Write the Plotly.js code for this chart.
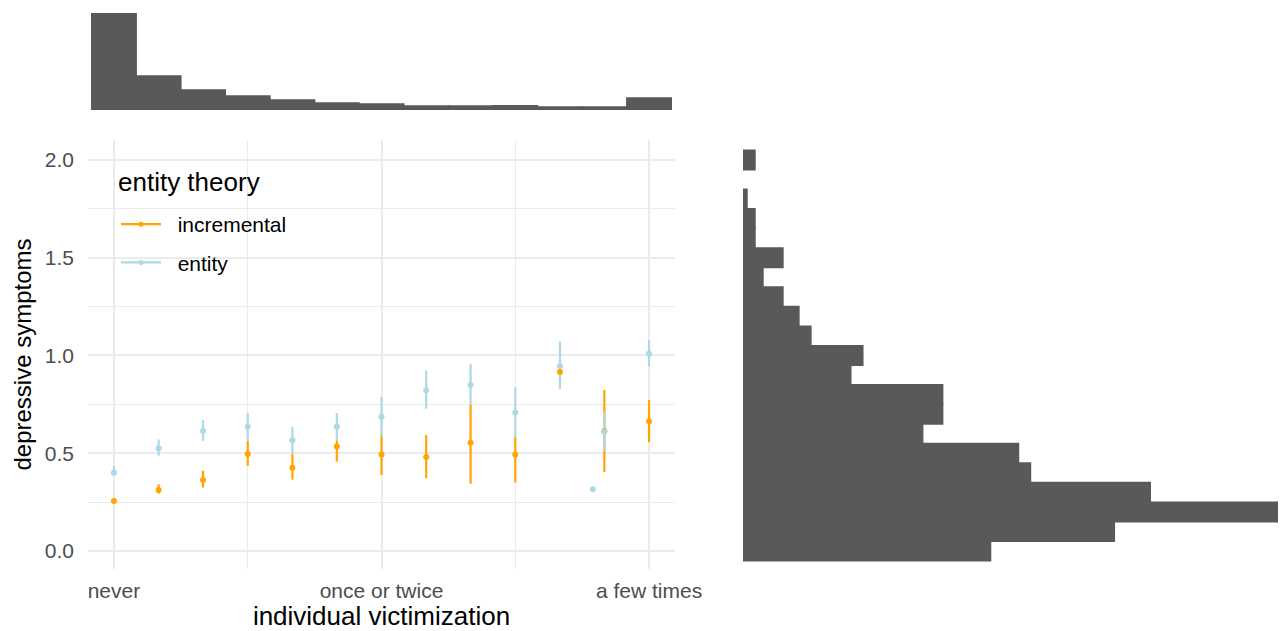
<!DOCTYPE html>
<html>
<head>
<meta charset="utf-8">
<script src="https://cdn.plot.ly/plotly-3.0.1.min.js"></script>
<style>html,body{margin:0;padding:0;background:#fff;}#chart{width:1282px;height:631px;}</style>
</head>
<body>
<div id="chart"></div>
<script>
// ---- data ----
const levels = [1, 1.167, 1.333, 1.5, 1.667, 1.833, 2, 2.167, 2.333, 2.5, 2.667, 2.833, 3];
const tickVals = [1, 2, 3];
const tickText = ['never', 'once or twice', 'a few times'];
const yTickVals = [0, 0.5, 1, 1.5, 2];
const yTickText = ['0.0', '0.5', '1.0', '1.5', '2.0'];
const groupNames = ['incremental', 'entity'];
const legendTitle = 'entity theory';

const incMean = [0.256, 0.312, 0.363, 0.496, 0.426, 0.535, 0.494, 0.481, 0.554, 0.494, 0.916, 0.614, 0.663];
const incLow  = [0.245, 0.293, 0.324, 0.436, 0.365, 0.457, 0.389, 0.372, 0.344, 0.350, 0.905, 0.404, 0.557];
const incHigh = [0.267, 0.341, 0.411, 0.564, 0.496, 0.566, 0.597, 0.593, 0.750, 0.583, 0.927, 0.824, 0.772];

const entMean = [0.400, 0.525, 0.614, 0.636, 0.566, 0.636, 0.687, 0.822, 0.849, 0.708, 0.946, 0.610, 1.009];
const entLow  = [0.384, 0.488, 0.563, 0.566, 0.498, 0.567, 0.586, 0.728, 0.750, 0.580, 0.829, 0.511, 0.943];
const entHigh = [0.435, 0.571, 0.670, 0.706, 0.636, 0.706, 0.788, 0.924, 0.958, 0.837, 1.071, 0.711, 1.079];

const entExtraX = [2.79];
const entExtraY = [0.316];

// marginal histogram of victimization (top)
const topCounts = [291, 102, 60, 42, 30, 21, 18, 12, 12, 13, 9, 9, 36];

// marginal histogram of depressive symptoms (right)
const symBins = [0.0, 0.1, 0.2, 0.3, 0.4, 0.5, 0.6, 0.7, 0.8, 0.9, 1.0, 1.1, 1.2, 1.3, 1.4, 1.5, 1.6, 1.7, 1.8, 1.9, 2.0];
const symCounts = [62, 93, 134, 102, 72, 69, 45, 50, 50, 27, 30, 17, 14, 10, 5, 10, 3, 3, 1, 0, 3];

// ---- styling ----
const ORANGE = '#FFA500';
const BLUE = '#ADD8E6';
const GREY = '#595959';
const W = 1282, H = 631;
const FONT = 'Liberation Sans, Arial, Helvetica, sans-serif';
const PAD = '\u00a0\u00a0';

const px = v => v / W;
const py = v => 1 - v / H;

const minus = (m, lo) => m.map((v, i) => v - lo[i]);
const plus = (m, hi) => hi.map((v, i) => v - m[i]);
const seamWidth = counts => counts.map(c => (c > 0 ? 1.5 : 0));

const xRange = [0.903, 3.097];
const yRange = [-0.092, 2.102];

const traces = [
  // error bars (drawn first)
  {x: levels, y: incMean, type: 'scatter', mode: 'markers', xaxis: 'x', yaxis: 'y',
   marker: {color: ORANGE, size: 6, opacity: 0}, showlegend: false, hoverinfo: 'skip',
   error_y: {type: 'data', symmetric: false, array: plus(incMean, incHigh), arrayminus: minus(incMean, incLow),
             color: ORANGE, thickness: 2.2, width: 0}},
  {x: levels, y: entMean, type: 'scatter', mode: 'markers', xaxis: 'x', yaxis: 'y',
   marker: {color: BLUE, size: 6, opacity: 0}, showlegend: false, hoverinfo: 'skip',
   error_y: {type: 'data', symmetric: false, array: plus(entMean, entHigh), arrayminus: minus(entMean, entLow),
             color: BLUE, thickness: 2.2, width: 0}},
  // points
  {x: levels, y: incMean, type: 'scatter', mode: 'markers', xaxis: 'x', yaxis: 'y',
   marker: {color: ORANGE, size: 6}, showlegend: false, name: groupNames[0]},
  {x: levels, y: entMean, type: 'scatter', mode: 'markers', xaxis: 'x', yaxis: 'y',
   marker: {color: BLUE, size: 6}, showlegend: false, name: groupNames[1]},
  {x: entExtraX, y: entExtraY, type: 'scatter', mode: 'markers', xaxis: 'x', yaxis: 'y',
   marker: {color: BLUE, size: 6}, showlegend: false, name: groupNames[1]},
  // legend entries
  {x: [null], y: [null], type: 'scatter', mode: 'lines+markers', name: PAD + groupNames[0], legendgroup: 'a',
   line: {color: ORANGE, width: 2.2}, marker: {color: ORANGE, size: 5}, xaxis: 'x', yaxis: 'y'},
  {x: [null], y: [null], type: 'scatter', mode: 'lines+markers', name: PAD + groupNames[1], legendgroup: 'b',
   line: {color: BLUE, width: 2.2}, marker: {color: BLUE, size: 5}, xaxis: 'x', yaxis: 'y'},
  // top marginal histogram
  {x: levels, y: topCounts, type: 'bar', xaxis: 'x2', yaxis: 'y2', showlegend: false,
   marker: {color: GREY, line: {width: seamWidth(topCounts), color: GREY}}},
  // right marginal histogram
  {x: symCounts, y: symBins, type: 'bar', orientation: 'h', xaxis: 'x3', yaxis: 'y3', showlegend: false,
   marker: {color: GREY, line: {width: seamWidth(symCounts), color: GREY}}}
];

const mainDomX = [px(88), px(675)];
const mainDomY = [py(569), py(140)];

const layout = {
  width: W, height: H,
  margin: {l: 0, r: 0, t: 0, b: 0},
  paper_bgcolor: '#fff', plot_bgcolor: 'rgba(0,0,0,0)',
  font: {family: FONT, color: '#000'},
  bargap: 0,
  showlegend: true,
  xaxis: {
    domain: mainDomX, range: xRange, anchor: 'y',
    tickmode: 'array', tickvals: tickVals, ticktext: tickText,
    tickfont: {size: 21, color: '#4D4D4D'}, ticks: '', ticklabelstandoff: 7,
    showgrid: true, gridcolor: '#EBEBEB', gridwidth: 2, zeroline: false, showline: false,
    minor: {tickvals: [1.5, 2.5], showgrid: true, gridcolor: '#EBEBEB', gridwidth: 1.2, ticks: ''},
    title: {text: 'individual victimization', font: {size: 26, color: '#000'}, standoff: 2},
    automargin: false
  },
  yaxis: {
    domain: mainDomY, range: yRange, anchor: 'x',
    tickmode: 'array', tickvals: yTickVals, ticktext: yTickText,
    tickfont: {size: 21, color: '#4D4D4D'}, ticks: '', ticklabelstandoff: 13,
    showgrid: true, gridcolor: '#EBEBEB', gridwidth: 2, zeroline: false, showline: false,
    minor: {tickvals: [0.25, 0.75, 1.25, 1.75], showgrid: true, gridcolor: '#EBEBEB', gridwidth: 1.2, ticks: ''},
    title: {text: 'depressive symptoms', font: {size: 24, color: '#000'}, standoff: 6},
    automargin: false
  },
  xaxis2: {
    domain: mainDomX, range: xRange, anchor: 'y2',
    visible: false, showgrid: false, zeroline: false
  },
  yaxis2: {
    domain: [py(110), py(13)], range: [0, 291], anchor: 'x2',
    visible: false, showgrid: false, zeroline: false
  },
  xaxis3: {
    domain: [px(743), px(1278)], range: [0, 134], anchor: 'y3',
    visible: false, showgrid: false, zeroline: false
  },
  yaxis3: {
    domain: mainDomY, range: yRange, anchor: 'x3',
    visible: false, showgrid: false, zeroline: false
  },
  legend: {
    x: px(116), y: py(204), xanchor: 'left', yanchor: 'top',
    bgcolor: 'rgba(0,0,0,0)', borderwidth: 0,
    font: {size: 21, color: '#000'},
    tracegroupgap: 8, itemwidth: 40
  },
  annotations: [
    {text: legendTitle, xref: 'paper', yref: 'paper', x: px(116), y: py(182),
     xanchor: 'left', yanchor: 'middle', showarrow: false, font: {size: 26, color: '#000'}}
  ]
};

Plotly.newPlot('chart', traces, layout, {displayModeBar: false, staticPlot: true});
</script>
</body>
</html>
